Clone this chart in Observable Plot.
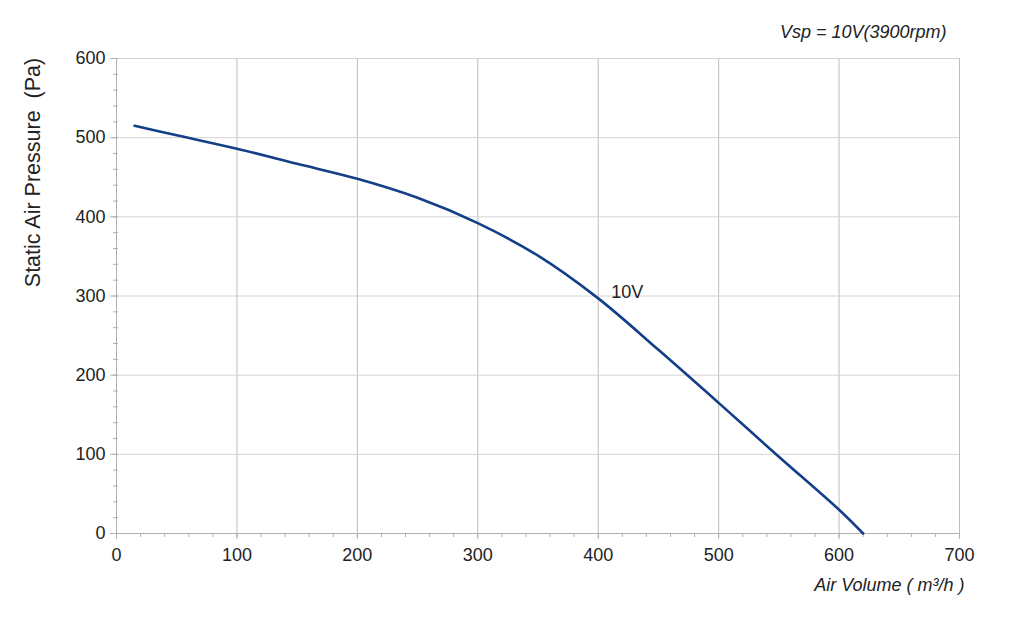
<!DOCTYPE html>
<html>
<head>
<meta charset="utf-8">
<script src="https://cdn.jsdelivr.net/npm/d3@7"></script>
<script src="https://cdn.jsdelivr.net/npm/@observablehq/plot@0.6"></script>
<style>
  html, body { margin: 0; padding: 0; background: #fff; }
  #chart svg { display: block; }
</style>
</head>
<body>
<div id="chart"></div>
<script>
// ---- data ----
const volume   = [15, 50, 100, 150, 200, 250, 300, 350, 400, 450, 500, 550, 600, 620];
const pressure = [515, 503, 486, 467, 448, 424, 392, 351, 297, 232, 165, 97, 30, 0];
const seriesName = "10V";
const xTicks = [0, 100, 200, 300, 400, 500, 600, 700];
const yTicks = [0, 100, 200, 300, 400, 500, 600];
const xMinorTicks = d3.range(0, 701, 20);
const yMinorTicks = d3.range(0, 601, 20);
const titleText = "Vsp = 10V(3900rpm)";
const xLabel = "Air Volume ( m³/h )";
const yLabel = "Static Air Pressure  (Pa)";

const rows = volume.map((v, i) => ({volume: v, pressure: pressure[i]}));
const labelRow = rows.filter(d => d.volume === 400);

const font = "'Liberation Sans', Arial, Helvetica, sans-serif";

const chart = Plot.plot({
  width: 1024,
  height: 620,
  marginLeft: 116,
  marginRight: 65,
  marginTop: 58,
  marginBottom: 87,
  style: {fontFamily: font, fontSize: "18px", color: "#222", background: "#fff"},
  x: {domain: [0, 700]},
  y: {domain: [0, 600]},
  marks: [
    Plot.gridX(xTicks, {stroke: "#bdbdbd", strokeOpacity: 1, strokeWidth: 1}),
    Plot.gridY(yTicks, {stroke: "#d4d4d4", strokeOpacity: 1, strokeWidth: 1}),
    Plot.ruleX([0], {stroke: "#b0b0b0"}),
    Plot.ruleY([0], {stroke: "#b0b0b0"}),
    Plot.axisX(xMinorTicks, {tickSize: 4, tickFormat: () => "", stroke: "#b0b0b0", label: null}),
    Plot.axisY(yMinorTicks, {tickSize: 5, dx: 2, tickFormat: () => "", stroke: "#b0b0b0", label: null}),
    Plot.axisX(xTicks, {tickSize: 6, tickPadding: 9, stroke: "#b0b0b0", fill: "#222", fontSize: 18, label: null}),
    Plot.axisY(yTicks, {tickSize: 6, tickPadding: 5, stroke: "#b0b0b0", fill: "#222", fontSize: 18, label: null}),
    Plot.line(rows, {x: "volume", y: "pressure", curve: "catmull-rom", stroke: "#123f87", strokeWidth: 2.6}),
    Plot.text(labelRow, {x: "volume", y: "pressure", text: () => seriesName, dx: 13, dy: -6,
      textAnchor: "start", fontSize: 18, fill: "#222"}),
    Plot.text([titleText], {frameAnchor: "top-right", dx: -13, dy: -26, textAnchor: "end", lineAnchor: "middle",
      fontStyle: "italic", fontSize: 18, fill: "#222"}),
    Plot.text([xLabel], {frameAnchor: "bottom-right", dx: 5, dy: 52, textAnchor: "end", lineAnchor: "middle",
      fontStyle: "italic", fontSize: 18, fill: "#222"}),
    Plot.text([yLabel], {frameAnchor: "top-left", dx: -83, dy: 114, rotate: -90, textAnchor: "middle",
      lineAnchor: "middle", fontSize: 21.5, fill: "#222"})
  ]
});
document.getElementById("chart").appendChild(chart);
</script>
</body>
</html>
